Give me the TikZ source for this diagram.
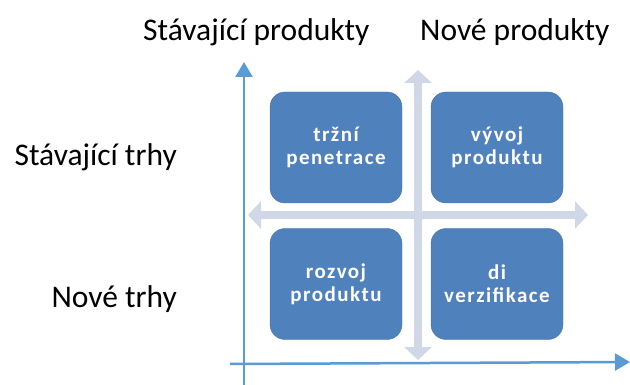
\documentclass[tikz,border=0pt]{standalone}
\usepackage{fontspec}
\setmainfont{Carlito}
\newfontfamily\boxfont[LetterSpace=7]{Carlito Bold}
\usetikzlibrary{arrows.meta}
\definecolor{boxblue}{HTML}{4F81BD}
\definecolor{crossgray}{HTML}{D0D8E8}
\definecolor{axisblue}{HTML}{5B9BD5}
\tikzset{
  quad/.style={fill=boxblue, draw=boxblue!90!black, line width=0.4pt, rounded corners=15pt,
    minimum width=132pt, minimum height=111pt, inner sep=0pt, text=white, align=center,
    font=\boxfont\fontsize{21}{23}\selectfont},
  crossarrow/.style={draw=crossgray, line width=8pt, {Triangle[width=27pt,length=13pt]}-{Triangle[width=27pt,length=13pt]}},
  axisarrow/.style={draw=axisblue, line width=2.5pt, -{Triangle[width=17pt,length=15pt]}},
  lab/.style={font=\fontsize{31.5}{38}\selectfont, inner sep=0pt}
}
\begin{document}
\begin{tikzpicture}[x=1pt,y=-1pt]
\useasboundingbox (0,0) rectangle (630,385);
% light cross
\coordinate (vtop) at (418,70);
\coordinate (vbot) at (418,360);
\coordinate (hleft) at (248,215);
\coordinate (hright) at (588,215);
\draw[crossarrow] (vbot) -- (vtop);
\draw[crossarrow] (hleft) -- (hright);
% boxes
\node[quad] (tl) at (336,147.5) {tržní\\penetrace};
\node[quad] (tr) at (497,147.5) {vývoj\\produktu};
\node[quad] (bl) at (336,284) {rozvoj\\produktu};
\node[quad] (br) at (497,284) {di\\verzifikace};
% axes
\coordinate (yaxs) at (244,385);
\coordinate (yaxe) at (244,62);
\coordinate (xaxs) at (230,364);
\coordinate (xaxe) at (630,362);
\draw[axisarrow] (yaxs) -- (yaxe);
\draw[axisarrow] (xaxs) -- (xaxe);
% labels
\node[lab, anchor=base west] (sp) at (143,41) {Stávající produkty};
\node[lab, anchor=base west] (np) at (420,41) {Nové produkty};
\node[lab, anchor=base east] (st) at (177,166) {Stávající trhy};
\node[lab, anchor=base east] (nt) at (177,307) {Nové trhy};
\end{tikzpicture}
\end{document}
